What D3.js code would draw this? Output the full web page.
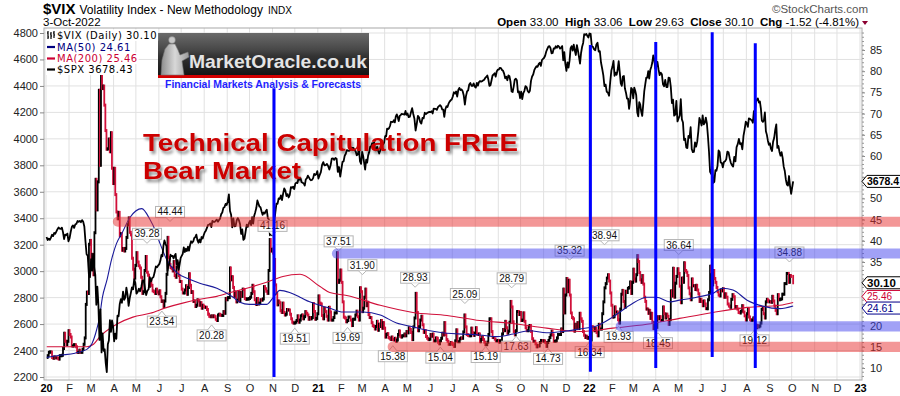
<!DOCTYPE html>
<html>
<head>
<meta charset="utf-8">
<script src="https://cdn.jsdelivr.net/npm/d3@7"></script>
<style>
  body { margin: 0; background: #fff; }
  text { font-family: 'Liberation Sans', Arial, sans-serif; }
</style>
</head>
<body>
<div id="chart"></div>
<script>
'use strict';

/*** Data */
/** $VIX daily closes, one inner array per month */
const vix2020 = [
  [12.5,12.9,13.7,13.8,13.8,12.5,12.3,12.6,12.4,12.4,12.3,12.1,12.9,12.9,13.0,14.6,18.2,16.3,15.5,16.3,18.8],
  [17.9,17.3,15.2,15.2,15.5,15.5,15.0,13.7,13.7,14.2,13.7,13.7,14.4,15.6,17.1,25.0,27.9,27.6,39.2,40.1],
  [33.4,36.8,32.0,41.9,54.5,47.3,53.9,75.5,57.8,79.6,75.9,76.5,72.0,66.0,61.6,61.7,64.0,61.0,65.5,57.1,53.5],
  [57.1,50.9,46.8,45.2,46.7,41.2,41.7,37.8,38.2,37.6,38.2,40.8,43.8,45.4,42.0,41.4,35.9,33.3,31.2,34.2],
  [37.2,35.0,34.1,33.6,31.4,27.6,28.0,33.0,36.3,32.6,31.9,29.3,30.5,29.5,28.2,28.0,27.6,28.6,27.9,27.5],
  [28.2,26.8,25.7,25.8,24.5,25.8,27.6,32.1,40.8,36.1,34.4,33.7,33.5,32.9,35.1,31.8,31.4,33.8,34.7,31.8,30.4,30.4],
  [28.6,27.7,27.7,28.4,29.4,27.4,29.0,32.2,29.5,27.8,28.0,25.7,25.8,24.5,24.8,26.1,25.8,24.8,25.4,24.1,24.8,24.5],
  [24.3,24.3,23.8,22.7,22.2,22.1,22.3,22.1,22.3,22.1,21.5,21.2,22.5,22.7,22.5,22.4,22.4,23.3,22.9,26.4,26.1],
  [26.6,26.6,33.6,30.8,31.5,29.0,26.9,27.9,25.6,26.0,28.0,25.8,27.8,26.9,28.6,28.5,26.4,26.2,26.3,26.3,26.4],
  [26.7,27.6,29.5,28.0,26.1,25.0,26.4,25.1,25.3,26.1,26.0,26.3,29.2,28.7,28.1,27.6,33.0,40.3,37.6,38.0],
  [37.1,35.6,29.6,27.6,24.9,25.8,25.4,23.5,23.1,25.3,23.1,22.5,22.7,23.8,23.7,23.7,22.7,21.6,20.8,20.6,20.6],
  [20.8,21.2,22.3,20.8,21.3,22.3,22.5,21.6,22.1,23.3,22.9,22.5,21.5,21.9,21.6,21.9,25.2,23.3,21.5,21.7,22.8]
];
const vix2021 = [
  [27.0,25.3,25.1,22.4,21.6,24.1,23.3,22.2,21.3,24.3,23.2,21.3,21.3,21.9,23.0,23.0,37.2,30.2,30.7,33.1],
  [30.2,25.6,22.0,21.8,20.9,21.2,22.0,22.0,21.3,20.0,21.5,21.5,22.5,23.4,22.1,21.3,28.9,28.0],
  [23.3,24.1,26.7,28.6,24.7,25.5,22.6,21.9,21.9,20.7,20.0,19.8,19.2,19.8,21.0,18.9,20.3,19.8,21.2,19.4,20.7,19.4],
  [17.3,17.9,18.1,17.2,17.0,16.7,17.3,16.7,16.6,17.0,16.3,16.6,17.9,18.7,17.5,17.3,17.6,17.6,18.0,17.6,18.6],
  [18.3,19.5,19.1,18.4,16.7,19.7,21.8,27.6,23.1,18.8,19.7,21.3,22.2,20.2,18.4,18.8,17.4,17.0,16.7,16.8],
  [17.9,17.5,18.0,16.4,16.4,17.1,17.0,16.1,15.7,16.4,17.0,18.2,17.8,20.7,17.9,16.7,16.3,15.6,15.6,16.0,15.8],
  [15.5,15.1,16.4,19.0,16.2,16.2,16.9,17.1,17.0,18.5,22.5,19.7,17.9,17.7,17.6,17.6,19.4,18.3,17.7,18.2],
  [19.5,18.0,17.9,18.0,16.2,16.7,17.3,16.7,16.1,15.5,15.5,16.1,17.9,21.6,21.6,18.6,17.2,17.2,16.8,16.4,16.4,16.5],
  [16.1,16.4,16.4,18.0,19.1,18.8,21.0,19.5,18.2,18.7,20.8,25.7,24.4,20.9,18.6,17.8,18.8,23.3,23.3,22.6,23.1],
  [21.2,21.3,23.0,21.0,19.5,18.8,18.8,19.9,20.0,18.6,16.9,16.3,16.3,15.7,15.0,15.3,15.2,16.0,16.5,16.5,16.3],
  [16.4,16.0,15.1,16.0,16.5,17.2,17.8,18.7,17.8,16.3,16.3,16.4,17.1,17.9,17.9,17.9,19.2,18.6,28.6,23.0,27.2],
  [31.1,28.0,30.7,27.2,23.0,21.9,21.6,18.7,20.3,19.3,20.7,19.3,22.9,21.6,21.0,18.6,17.7,17.2,17.5,17.0,17.2]
];
const vix2022 = [
  [17.2,16.6,19.7,19.6,18.8,19.4,18.4,17.6,20.3,19.2,19.2,22.8,25.6,28.9,29.9,31.2,32.0,30.5,27.7,24.8],
  [22.0,22.1,24.4,23.2,23.2,21.4,20.6,23.9,27.4,28.3,25.7,24.3,28.1,27.8,28.8,29.0,30.3,27.6,30.2],
  [33.3,31.0,30.5,32.0,36.5,35.1,32.5,30.8,30.2,31.8,29.8,26.7,25.7,23.9,23.9,22.9,23.6,21.7,22.9,20.8,19.3,20.6,20.6],
  [19.6,22.1,21.6,22.1,21.2,21.2,24.4,22.8,21.8,22.7,22.2,20.3,21.4,28.2,27.0,33.5,26.7,30.0,31.6,33.4],
  [32.3,29.3,25.4,31.2,30.2,34.8,33.0,32.6,31.8,28.9,27.5,26.1,31.0,29.4,29.4,28.5,29.5,28.4,27.5,25.7,26.2],
  [25.7,24.7,25.8,25.1,24.0,24.0,26.1,27.8,34.0,32.7,29.6,33.0,31.1,30.2,29.0,28.0,27.2,27.0,28.4,28.2,28.7],
  [26.7,27.5,26.7,25.1,24.6,24.3,26.2,27.3,26.8,24.2,24.5,23.9,23.1,23.0,23.4,24.7,23.2,22.3,21.3],
  [22.8,23.9,22.0,21.4,21.2,21.3,21.8,21.2,20.2,19.5,20.0,19.7,19.9,20.6,23.8,24.1,22.8,21.8,25.6,26.2,25.9,25.6],
  [25.6,25.5,26.9,25.8,24.6,23.6,22.8,27.3,26.1,26.2,26.3,27.4,27.4,29.9,29.9,32.3,32.3,30.2,31.8,31.6]
];

/** $SPX daily closes, one inner array per month */
const spx2020 = [
  [3258,3235,3246,3237,3253,3275,3265,3289,3283,3300,3317,3330,3321,3320,3329,3295,3243,3276,3273,3284,3226],
  [3249,3298,3335,3346,3327,3352,3358,3379,3373,3380,3370,3386,3373,3338,3226,3128,3116,2979,2954],
  [3090,3003,3130,3023,2972,2746,2882,2741,2480,2711,2386,2529,2398,2409,2305,2237,2447,2476,2630,2541,2627,2585],
  [2470,2527,2489,2664,2659,2750,2789,2761,2846,2783,2800,2875,2823,2737,2797,2836,2878,2863,2939,2912],
  [2830,2842,2868,2848,2881,2929,2930,2870,2820,2852,2863,2954,2922,2948,2955,2991,3036,3030,3044],
  [3055,3080,3122,3112,3193,3232,3207,3190,3002,3041,3066,3124,3113,3115,3097,3117,3131,3050,3083,3009,3053,3100],
  [3115,3130,3179,3145,3169,3152,3185,3155,3197,3226,3215,3224,3251,3257,3276,3235,3215,3239,3218,3258,3246,3271],
  [3294,3306,3327,3349,3351,3360,3333,3380,3373,3372,3381,3389,3374,3386,3397,3431,3443,3478,3484,3508,3500],
  [3527,3580,3455,3426,3331,3398,3339,3340,3383,3401,3385,3357,3281,3315,3236,3246,3298,3351,3335,3363],
  [3380,3348,3408,3360,3419,3446,3477,3534,3511,3488,3483,3453,3426,3443,3435,3453,3465,3400,3391,3271,3310,3270],
  [3310,3369,3443,3510,3509,3550,3545,3572,3537,3585,3626,3610,3567,3582,3557,3577,3635,3630,3638,3621],
  [3662,3669,3666,3699,3691,3702,3672,3668,3663,3647,3694,3701,3722,3709,3694,3687,3690,3703,3735,3727,3732,3756]
];
const spx2021 = [
  [3700,3726,3748,3803,3824,3799,3801,3810,3795,3768,3798,3851,3853,3841,3855,3849,3750,3787,3714],
  [3774,3826,3830,3872,3887,3915,3911,3909,3916,3934,3932,3931,3913,3907,3876,3881,3925,3829,3811],
  [3901,3871,3819,3768,3842,3821,3875,3898,3939,3943,3968,3963,3974,3915,3913,3940,3910,3889,3910,3974,3971,3958,3972],
  [4020,4019,4077,4073,4080,4097,4129,4128,4127,4141,4124,4170,4185,4163,4135,4173,4180,4188,4187,4186,4183,4211,4181],
  [4192,4164,4167,4201,4232,4188,4152,4063,4112,4174,4163,4127,4115,4159,4155,4197,4188,4195,4200,4204],
  [4202,4208,4192,4229,4226,4227,4219,4239,4247,4255,4246,4223,4221,4166,4224,4246,4241,4266,4281,4291,4297],
  [4320,4352,4343,4358,4320,4369,4385,4369,4374,4360,4327,4258,4323,4358,4367,4411,4422,4401,4400,4419,4395],
  [4387,4423,4402,4429,4437,4432,4436,4442,4447,4460,4468,4479,4448,4400,4405,4441,4479,4486,4496,4470,4509,4523],
  [4524,4537,4535,4520,4514,4493,4458,4469,4443,4480,4473,4433,4358,4354,4395,4448,4455,4443,4352,4359,4307],
  [4357,4300,4345,4363,4399,4391,4361,4350,4364,4438,4471,4486,4519,4536,4549,4544,4566,4575,4551,4596,4605],
  [4613,4630,4660,4680,4697,4701,4685,4646,4649,4683,4682,4700,4688,4704,4697,4682,4690,4701,4594,4655,4567],
  [4513,4577,4538,4591,4686,4701,4667,4712,4668,4634,4709,4668,4620,4568,4649,4696,4725,4791,4786,4793,4778,4766]
];
const spx2022 = [
  [4796,4793,4700,4696,4677,4670,4713,4726,4659,4662,4577,4532,4482,4398,4410,4356,4349,4326,4431,4516],
  [4546,4589,4477,4500,4484,4522,4587,4504,4419,4401,4471,4475,4380,4349,4305,4304,4226,4288,4385,4374],
  [4306,4387,4363,4329,4201,4170,4277,4259,4204,4173,4262,4358,4411,4463,4462,4511,4456,4520,4543,4575,4631,4602,4530],
  [4545,4582,4525,4481,4500,4488,4412,4397,4446,4392,4391,4462,4459,4393,4271,4296,4175,4183,4287,4132],
  [4155,4175,4300,4147,4123,3991,4001,3935,3930,4023,4008,4088,3923,3900,3901,3973,3941,3979,4057,4158,4132],
  [4101,4177,4109,4121,4161,4116,4018,3901,3750,3735,3790,3667,3675,3764,3759,3795,3912,3900,3821,3819,3785],
  [3825,3831,3845,3903,3899,3854,3819,3801,3790,3863,3830,3937,3960,3999,3961,3967,3921,4023,4072,4130],
  [4118,4091,4155,4152,4145,4140,4122,4210,4207,4280,4297,4305,4274,4283,4228,4137,4128,4140,4199,4057,4030,3986,3955],
  [3966,3924,3908,3979,4006,4067,4110,3932,3946,3901,3873,3900,3856,3790,3757,3693,3655,3647,3719,3640,3585]
];

/** Last bar (3-Oct-2022) */
const lastDay = "2022-10-03";
const lastVix = 30.10;
const lastSpx = 3678.43;

/** Moving averages */
const ma50Dates = ["2020-01-02","2020-01-19","2020-02-09","2020-02-25","2020-03-03","2020-03-09","2020-03-13","2020-03-17","2020-03-23","2020-03-29",
  "2020-04-05","2020-04-12","2020-04-23","2020-05-09","2020-05-20","2020-05-27","2020-06-02","2020-06-12","2020-06-25","2020-07-13",
  "2020-07-26","2020-08-18","2020-09-09","2020-09-18","2020-10-01","2020-10-24","2020-11-01","2020-11-11","2020-11-24","2020-12-08",
  "2020-12-21","2021-01-17","2021-02-04","2021-03-03","2021-03-26","2021-04-17","2021-05-09","2021-06-01","2021-06-24","2021-07-15",
  "2021-08-07","2021-08-30","2021-09-21","2021-10-13","2021-11-05","2021-11-27","2021-12-19","2022-01-11","2022-02-02","2022-02-25",
  "2022-03-20","2022-04-02","2022-04-20","2022-05-03","2022-05-26","2022-06-17","2022-06-30","2022-07-14","2022-08-02","2022-08-23",
  "2022-09-15","2022-10-03"];
const ma50Values = [12.5,13.0,13.5,14.4,15.8,18.9,21.9,26.7,30.7,35.4,
  39.4,41.7,45.5,47.6,45.0,42.5,39.6,35.4,32.5,30.9,
  30.0,28.8,26.7,25.5,25.0,25.0,26.4,28.3,27.8,26.7,
  25.6,24.1,23.2,23.2,22.5,20.6,19.7,18.8,18.2,18.0,
  17.8,17.4,18.0,18.8,18.3,18.6,19.2,19.9,22.0,24.8,
  26.7,26.7,25.6,26.0,26.7,27.6,28.8,28.4,26.0,24.6,
  24.0,24.61];

const ma200Dates = ["2020-01-02","2020-02-25","2020-03-05","2020-03-13","2020-04-05","2020-04-27","2020-05-20","2020-06-12","2020-07-03","2020-07-26",
  "2020-08-18","2020-09-09","2020-10-01","2020-10-24","2020-11-15","2020-12-08","2021-01-04","2021-01-17","2021-02-09","2021-03-26",
  "2021-05-09","2021-06-24","2021-08-07","2021-09-21","2021-11-05","2021-12-19","2022-02-02","2022-03-20","2022-05-03","2022-06-17",
  "2022-08-02","2022-09-15","2022-10-03"];
const ma200Values = [15.0,15.0,15.6,17.3,20.3,22.0,22.9,24.3,25.3,26.2,
  26.9,28.0,29.0,30.2,31.6,32.1,29.2,27.8,27.1,24.8,
  23.1,22.4,21.2,20.5,19.4,18.6,19.4,20.3,21.7,23.1,
  24.3,24.8,25.46];

/** Price labels on the chart */
const noteDates = ["2020-05-16","2020-06-16","2020-11-01","2020-06-05","2020-08-11","2020-12-01","2021-01-29","2021-02-10","2021-03-02","2021-04-12",
  "2021-05-12","2021-06-15","2021-07-18","2021-08-15","2021-09-19","2021-09-25","2021-11-07","2021-12-06","2022-01-02","2022-01-22",
  "2022-02-10","2022-04-04","2022-05-02","2022-08-12","2022-09-28"];
const noteValues = [39.28,44.44,41.16,23.54,20.28,19.51,37.51,19.69,31.90,15.38,
  28.93,15.04,25.09,15.19,28.79,17.63,14.73,35.32,16.34,38.94,
  19.93,18.45,36.64,19.12,34.88];
const noteKinds = ["h","h","h","l","l","l","h","l","h","l",
  "h","l","h","l","h","l","l","h","l","h",
  "l","l","h","l","h"];

/** Support / resistance bands (VIX levels) */
const bandLevels = [44.5, 37.0, 15.0, 19.8];
const bandStarts = ["2020-03-31","2021-01-20","2021-04-05","2022-02-06"];
const bandColors = ["#e83030","#4444ee","#e83030","#4444ee"];

/** Vertical markers (VIX units for the ends) */
const markerDates = ["2020-11-03","2022-01-03","2022-04-01","2022-06-16","2022-08-13"];
const markerTops = [76.0, 86.2, 86.9, 89.2, 86.6];
const markerBottoms = [7.9, 9.1, 10.0, 12.6, 10.0];

/** Axis ticks */
const spxTicks = d3.range(2200, 4801, 200);
const vixTicks = d3.range(10, 86, 5);
const monthInitials = ["J","F","M","A","M","J","J","A","S","O","N","D"];

/*** Build daily series */
const parse = d3.timeParse("%Y-%m-%d");
function daily(months, year) {
  const out = [];
  months.forEach((vals, m) => {
    const start = new Date(year, m, 1);
    const end = new Date(year, m + 1, 1);
    const step = (end - start) / vals.length;
    vals.forEach((v, i) => out.push({ date: new Date(+start + (i + 0.5) * step), v: v }));
  });
  return out;
}
const vixAll = [].concat(daily(vix2020, 2020), daily(vix2021, 2021), daily(vix2022, 2022));
vixAll.push({ date: parse(lastDay), v: lastVix });
const spxAll = [].concat(daily(spx2020, 2020), daily(spx2021, 2021), daily(spx2022, 2022));
spxAll.push({ date: parse(lastDay), v: lastSpx });

/*** Chart */
const W = 900, H = 396;
const L = 44, R = 862, T = 28, B = 380;

const x = d3.scaleTime().domain([new Date(2020, 0, 1), new Date(2023, 0, 1)]).range([46, 860]);
const yVix = d3.scaleLinear().domain([10, 85]).range([368, 50]);
const ySpx = d3.scaleLinear().domain([2200, 4800]).range([377, 33]);

const svg = d3.select("#chart").append("svg")
  .attr("width", W).attr("height", H)
  .style("display", "block");

const defs = svg.append("defs");
defs.append("clipPath").attr("id", "plot")
  .append("rect").attr("x", L).attr("y", T).attr("width", R - L).attr("height", B - T);

// drop shadow for the headline
const shadow = defs.append("filter").attr("id", "shadow")
  .attr("x", "-5%").attr("y", "-30%").attr("width", "115%").attr("height", "170%");
shadow.append("feGaussianBlur").attr("in", "SourceAlpha").attr("stdDeviation", 1.5).attr("result", "blur");
shadow.append("feOffset").attr("in", "blur").attr("dx", 2).attr("dy", 2.5).attr("result", "off");
shadow.append("feComponentTransfer").attr("in", "off").attr("result", "soft")
  .append("feFuncA").attr("type", "linear").attr("slope", 0.45);
const merge = shadow.append("feMerge");
merge.append("feMergeNode").attr("in", "soft");
merge.append("feMergeNode").attr("in", "SourceGraphic");

const grad = defs.append("linearGradient").attr("id", "logoGrad")
  .attr("x1", 0).attr("y1", 0).attr("x2", 0).attr("y2", 1);
[["0%", "#6a6a6a"], ["40%", "#474747"], ["55%", "#333"], ["100%", "#151515"]]
  .forEach(s => grad.append("stop").attr("offset", s[0]).attr("stop-color", s[1]));
const stGrad = defs.append("linearGradient").attr("id", "statueGrad")
  .attr("x1", 0).attr("y1", 0).attr("x2", 1).attr("y2", 0);
[["0%", "#8d8d8d"], ["50%", "#d8d8d8"], ["100%", "#9a9a9a"]]
  .forEach(s => stGrad.append("stop").attr("offset", s[0]).attr("stop-color", s[1]));

/** Grid */
const months = d3.timeMonth.range(new Date(2020, 0, 1), new Date(2023, 0, 2));
svg.append("g").selectAll("line").data(months).join("line")
  .attr("x1", d => x(d)).attr("x2", d => x(d))
  .attr("y1", T).attr("y2", B)
  .attr("stroke", "#e1e1e1");
svg.append("g").selectAll("line").data(spxTicks).join("line")
  .attr("x1", L).attr("x2", R)
  .attr("y1", d => ySpx(d)).attr("y2", d => ySpx(d))
  .attr("stroke", "#e1e1e1");

/** Frame */
svg.append("rect").attr("x", L).attr("y", T).attr("width", R - L).attr("height", B - T)
  .attr("fill", "none").attr("stroke", "#a8a8a8");

/** Right-side value tags (positions first, so axis labels under them can be hidden) */
const ma200Last = ma200Values[ma200Values.length - 1];
const ma50Last = ma50Values[ma50Values.length - 1];
const tags = [
  { y: ySpx(lastSpx), text: lastSpx.toFixed(1), color: "#000", bold: true, size: 10.5 },
  { y: yVix(lastVix), text: lastVix.toFixed(2), color: "#000", bold: true, size: 11.5 },
  { y: yVix(ma200Last) - 6, text: ma200Last.toFixed(2), color: "#cc0033", size: 10 },
  { y: yVix(ma50Last) + 2, text: ma50Last.toFixed(2), color: "#00008b", size: 10.5 }
];

/** Axes */
const axisL = svg.append("g").attr("transform", `translate(${L},0)`)
  .call(d3.axisLeft(ySpx).tickValues(spxTicks).tickSize(4).tickPadding(2).tickFormat(d3.format("d")));
const axisR = svg.append("g").attr("transform", `translate(${R},0)`)
  .call(d3.axisRight(yVix).tickValues(vixTicks).tickSize(3).tickPadding(5));
svg.append("g").attr("transform", `translate(${R},0)`)
  .selectAll("line").data(d3.range(8, 90, 1)).join("line")
  .attr("x1", 0).attr("x2", 2).attr("y1", d => yVix(d)).attr("y2", d => yVix(d))
  .attr("stroke", "#999");
const axisB = svg.append("g").attr("transform", `translate(0,${B})`)
  .call(d3.axisBottom(x).tickValues(months).tickSize(0).tickPadding(4)
    .tickFormat(d => d.getMonth() === 0 ? d3.timeFormat("%y")(d) : monthInitials[d.getMonth()]));
[axisL, axisR, axisB].forEach(a => {
  a.select(".domain").remove();
  a.selectAll("text").attr("font-size", 11).attr("fill", "#222")
    .attr("font-family", "'Liberation Sans', Arial, sans-serif");
  a.selectAll(".tick line").attr("stroke", "#888");
});
axisB.selectAll("text").filter(d => d.getMonth() === 0).attr("font-weight", "bold").attr("fill", "#000");
// labels hidden behind the value tags
axisR.selectAll(".tick text").filter(d => tags.some(t => Math.abs(yVix(d) - t.y) < 7)).remove();

/** VIX bars */
const plot = svg.append("g").attr("clip-path", "url(#plot)");
const bars = vixAll.slice(1).map((d, i) => ({ date: d.date, o: vixAll[i].v, c: d.v }));
plot.append("g").selectAll("line").data(bars).join("line")
  .attr("x1", d => x(d.date)).attr("x2", d => x(d.date))
  .attr("y1", d => yVix(Math.max(d.o, d.c)) - 1.5)
  .attr("y2", d => yVix(Math.min(d.o, d.c)) + 1.5)
  .attr("stroke", d => d.c >= d.o ? "#000" : "#d0103a")
  .attr("stroke-width", 1.8);

/** Moving averages */
const maLine = d3.line().x(d => x(d.date)).y(d => yVix(d.v)).curve(d3.curveMonotoneX);
const ma200 = ma200Dates.map((d, i) => ({ date: parse(d), v: ma200Values[i] }));
const ma50 = ma50Dates.map((d, i) => ({ date: parse(d), v: ma50Values[i] }));
plot.append("path").datum(ma200).attr("d", maLine)
  .attr("fill", "none").attr("stroke", "#d0103a").attr("stroke-width", 1.1);
plot.append("path").datum(ma50).attr("d", maLine)
  .attr("fill", "none").attr("stroke", "#1a1a9a").attr("stroke-width", 1.1);

/** SPX line */
plot.append("path").datum(spxAll)
  .attr("d", d3.line().x(d => x(d.date)).y(d => ySpx(d.v)))
  .attr("fill", "none").attr("stroke", "#000").attr("stroke-width", 1.8)
  .attr("stroke-linejoin", "round");

/** Price labels */
const notes = noteDates.map((d, i) => ({ date: parse(d), v: noteValues[i], k: noteKinds[i] }));
const noteG = svg.append("g");
notes.forEach(n => {
  const cx = x(n.date), tip = yVix(n.v);
  const hi = n.k === "h";
  const boxH = 11;
  const top = hi ? tip - 4.5 - boxH : tip + 5.5;
  const edge = hi ? top + boxH : top;
  const g = noteG.append("g");
  const rect = g.append("rect");
  const t = g.append("text").attr("x", cx).attr("y", top + 9)
    .attr("text-anchor", "middle").attr("font-size", 10).attr("fill", "#111")
    .text(n.v.toFixed(2));
  const w = t.node().getComputedTextLength() + 4;
  rect.attr("x", cx - w / 2).attr("y", top).attr("width", w).attr("height", boxH)
    .attr("fill", "#fff").attr("stroke", "#b5b5b5");
  g.append("path")
    .attr("d", `M${cx - 4},${edge} L${cx},${hi ? tip - 0.5 : tip + 0.5} L${cx + 4},${edge}`)
    .attr("fill", "#fff").attr("stroke", "#b5b5b5");
});

/** Bands */
svg.append("g").selectAll("rect").data(bandLevels).join("rect")
  .attr("x", (d, i) => x(parse(bandStarts[i])))
  .attr("y", d => yVix(d + 1.2))
  .attr("width", (d, i) => W + 10 - x(parse(bandStarts[i])))
  .attr("height", d => yVix(d - 1.2) - yVix(d + 1.2))
  .attr("rx", 5)
  .attr("fill", (d, i) => bandColors[i]).attr("opacity", 0.5);

/** Headline */
const head = svg.append("g").attr("font-weight", "bold").attr("font-size", 24)
  .attr("fill", "#cc0000").attr("filter", "url(#shadow)");
[["Technical Capitulation FREE", 151, 375], ["Bear Market", 179, 158]].forEach(r => {
  head.append("text").attr("x", 143).attr("y", r[1])
    .attr("textLength", r[2]).attr("lengthAdjust", "spacingAndGlyphs")
    .text(r[0]);
});

/** Vertical markers */
svg.append("g").selectAll("line").data(markerDates).join("line")
  .attr("x1", d => x(parse(d))).attr("x2", d => x(parse(d)))
  .attr("y1", (d, i) => yVix(markerTops[i])).attr("y2", (d, i) => yVix(markerBottoms[i]))
  .attr("stroke", "#0000ff").attr("stroke-width", 3);

/** Logo */
const logo = svg.append("g");
logo.append("rect").attr("x", 158).attr("y", 33).attr("width", 211).attr("height", 42)
  .attr("fill", "url(#logoGrad)");
logo.append("rect").attr("x", 158).attr("y", 75).attr("width", 211).attr("height", 3)
  .attr("fill", "#d40000");
logo.append("path")
  .attr("d", "M161,75 L162,60 L165,49 L169,44 L175,44 L178,50 L180,55 L188,52 L189,57 L182,61 L184,75 Z")
  .attr("fill", "url(#statueGrad)").attr("stroke", "#777").attr("stroke-width", 0.6);
logo.append("circle").attr("cx", 172).attr("cy", 40).attr("r", 3.4)
  .attr("fill", "#c8c8c8").attr("stroke", "#777").attr("stroke-width", 0.5);
logo.append("text").attr("x", 189).attr("y", 67.5)
  .attr("font-size", 19).attr("font-weight", "bold").attr("fill", "#e4e4e4")
  .attr("textLength", 178).attr("lengthAdjust", "spacingAndGlyphs")
  .text("MarketOracle.co.uk");
logo.append("text").attr("x", 165).attr("y", 88)
  .attr("font-size", 11).attr("font-weight", "bold").attr("fill", "#1f1fff")
  .attr("textLength", 196).attr("lengthAdjust", "spacingAndGlyphs")
  .text("Financial Markets Analysis & Forecasts");

/** Legend */
const legend = svg.append("g");
const legRows = [
  { text: "$VIX (Daily) " + lastVix.toFixed(2), color: "#000", y: 39 },
  { text: "MA(50) " + ma50Last.toFixed(2), color: "#000080", y: 50.5, sw: "#000080" },
  { text: "MA(200) " + ma200Last.toFixed(2), color: "#cc0033", y: 62, sw: "#cc0033" },
  { text: "$SPX " + lastSpx.toFixed(2), color: "#000", y: 73, sw: "#000" }
];
legRows.forEach(r => {
  const bg = legend.append("rect");
  const t = legend.append("text").attr("x", 57).attr("y", r.y).attr("fill", r.color)
    .attr("font-size", 10).attr("letter-spacing", 0.5)
    .style("font-family", "'DejaVu Sans', Verdana, sans-serif").text(r.text);
  const w = t.node().getComputedTextLength();
  bg.attr("x", 46).attr("y", r.y - 9.5).attr("width", w + 12).attr("height", 11.5).attr("fill", "#fff");
  if (r.sw) {
    legend.append("line").attr("x1", 47).attr("x2", 55).attr("y1", r.y - 3.5).attr("y2", r.y - 3.5)
      .attr("stroke", r.sw).attr("stroke-width", 2.2);
  }
});
// OHLC glyph for the $VIX row
legend.append("path")
  .attr("d", "M48,31 L48,39 M47,33 L48,33 M48,37 L49,37 M51,32 L51,39 M50,34 L51,34 M51,36 L52,36 M54,31 L54,38 M53,33 L54,33 M54,35 L55,35")
  .attr("stroke", "#000").attr("stroke-width", 1.2).attr("fill", "none");

/** Titles */
const title = svg.append("text").attr("x", 43).attr("y", 14);
title.append("tspan").attr("font-weight", "bold").attr("font-size", 15).text("$VIX");
title.append("tspan").attr("dx", 4).attr("font-size", 12).text("Volatility Index - New Methodology");
title.append("tspan").attr("dx", 5).attr("font-size", 10).text("INDX");
svg.append("text").attr("x", 43).attr("y", 26).attr("font-size", 11.5).text("3-Oct-2022");
svg.append("text").attr("x", 868).attr("y", 13).attr("text-anchor", "end")
  .attr("font-size", 11.5).attr("fill", "#555").text("\u00A9StockCharts.com");

const ohlc = svg.append("text").attr("x", 859).attr("y", 26).attr("text-anchor", "end")
  .attr("font-size", 11.5).style("white-space", "pre");
[["Open", " 33.00  "], ["High", " 33.06  "], ["Low", " 29.63  "], ["Close", " 30.10  "], ["Chg", " -1.52 (-4.81%)"]]
  .forEach(p => {
    ohlc.append("tspan").attr("font-weight", "bold").text(p[0]);
    ohlc.append("tspan").text(p[1]);
  });
svg.append("path").attr("d", "M862,21 L868,21 L865,25 Z").attr("fill", "#8b0030");

/** Draw the value tags */
tags.forEach(tg => {
  const g = svg.append("g");
  const tip = 862;
  g.append("path")
    .attr("d", `M${tip},${tg.y} L${tip + 5},${tg.y - 6} L${904},${tg.y - 6} L${904},${tg.y + 6} L${tip + 5},${tg.y + 6} Z`)
    .attr("fill", "#fff").attr("stroke", tg.color).attr("stroke-width", 1);
  g.append("text").attr("x", 867).attr("y", tg.y + 3.8)
    .attr("font-size", tg.size).attr("font-weight", tg.bold ? "bold" : "normal")
    .attr("fill", tg.color).text(tg.text);
});
</script>
</body>
</html>
